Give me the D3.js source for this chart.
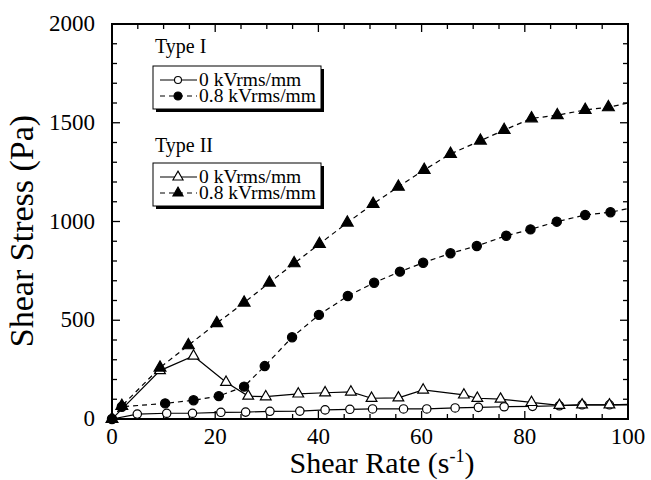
<!DOCTYPE html>
<html><head><meta charset="utf-8">
<script src="https://cdn.jsdelivr.net/npm/d3@7"></script>
</head><body style="margin:0">
<svg id="c" width="651" height="480"></svg>
<script>
// ---- data ----
const xTicks = [0, 20, 40, 60, 80, 100];
const yTicks = [0, 500, 1000, 1500, 2000];

const t1_0_x = [0, 4.9, 10.6, 15.6, 21.1, 25.9, 30.6, 36.4, 41.3, 46.1, 50.5, 56.5, 61.0, 66.5, 71.0, 76.0, 81.5, 86.7, 91.1, 96.4];
const t1_0_y = [0, 25, 29, 29, 34, 35, 39, 40, 46, 49, 51, 51, 51, 56, 59, 62, 64, 67, 72, 72];
const t1_0_end = 74;

const t1_8_x = [0, 1.9, 10.3, 15.8, 20.7, 25.6, 29.6, 34.9, 40.1, 45.7, 50.8, 55.8, 60.3, 65.6, 70.7, 76.4, 81.1, 86.2, 91.7, 96.6];
const t1_8_y = [0, 62, 79, 95, 116, 164, 268, 414, 527, 623, 690, 746, 791, 839, 876, 928, 960, 999, 1033, 1047];
const t1_8_end = 1065;

const t2_0_x = [0, 9.3, 15.8, 22.1, 26.4, 29.8, 36.1, 41.3, 46.3, 50.3, 55.5, 60.3, 68.2, 70.8, 75.3, 81.3, 86.7, 91.1, 96.4];
const t2_0_y = [0, 245, 319, 186, 116, 113, 127, 133, 137, 105, 107, 147, 122, 105, 101, 84, 69, 72, 72];
const t2_0_end = 72;

const t2_8_x = [0, 1.9, 9.3, 14.8, 20.3, 25.6, 30.5, 35.3, 40.2, 45.6, 50.6, 55.5, 60.5, 65.6, 71.4, 76.0, 81.3, 86.3, 91.7, 96.2];
const t2_8_y = [0, 66, 260, 373, 485, 589, 690, 788, 886, 994, 1089, 1176, 1261, 1342, 1409, 1463, 1522, 1538, 1565, 1578];
const t2_8_end = 1600;

const groupTitles = ["Type I", "Type II"];
const seriesLabels = ["0 kVrms/mm", "0.8 kVrms/mm"];

// ---- layout ----
const svg = d3.select("#c");
const FONT = '"Liberation Serif"';
const L = 112, R = 628, T = 24, B = 419;
const x = d3.scaleLinear().domain([0, 100]).range([L, R]);
const y = d3.scaleLinear().domain([0, 2000]).range([B, T]);

const series = [
  {xs: t1_0_x, ys: t1_0_y, end: t1_0_end, dash: null, shape: "circle", fill: false},
  {xs: t2_0_x, ys: t2_0_y, end: t2_0_end, dash: null, shape: "tri", fill: false},
  {xs: t1_8_x, ys: t1_8_y, end: t1_8_end, dash: "5,4", shape: "circle", fill: true},
  {xs: t2_8_x, ys: t2_8_y, end: t2_8_end, dash: "5,4", shape: "tri", fill: true},
];

// axes ticks inside
const minorX = d3.range(0, 101, 5), minorY = d3.range(0, 2001, 100);
const gT = svg.append("g");
minorX.forEach(v => {
  const len = v % 20 === 0 ? 8 : 5;
  gT.append("line").attr("x1", x(v)).attr("x2", x(v)).attr("y1", B).attr("y2", B - len).attr("stroke", "#000").attr("stroke-width", 1.3);
  gT.append("line").attr("x1", x(v)).attr("x2", x(v)).attr("y1", T).attr("y2", T + len).attr("stroke", "#000").attr("stroke-width", 1.3);
});
minorY.forEach(v => {
  const len = v % 500 === 0 ? 8 : 5;
  gT.append("line").attr("x1", L).attr("x2", L + len).attr("y1", y(v)).attr("y2", y(v)).attr("stroke", "#000").attr("stroke-width", 1.3);
  gT.append("line").attr("x1", R).attr("x2", R - len).attr("y1", y(v)).attr("y2", y(v)).attr("stroke", "#000").attr("stroke-width", 1.3);
});
svg.append("rect").attr("x", L).attr("y", T).attr("width", R - L).attr("height", B - T)
  .attr("fill", "none").attr("stroke", "#000").attr("stroke-width", 2);

// tick labels
svg.append("g").selectAll("text").data(xTicks).join("text")
  .style("font-family", FONT)
  .attr("x", d => x(d)).attr("y", 444).attr("text-anchor", "middle").attr("font-size", 23).text(d => d);
svg.append("g").selectAll("text").data(yTicks).join("text")
  .style("font-family", FONT)
  .attr("x", 95).attr("y", d => y(d) + 7).attr("text-anchor", "end").attr("font-size", 23).text(d => d);

// titles
const xt = svg.append("text").style("font-family", FONT)
  .attr("x", 382).attr("y", 473).attr("text-anchor", "middle").attr("font-size", 30);
xt.append("tspan").text("Shear Rate (s");
xt.append("tspan").attr("dy", -11).attr("font-size", 18).text("-1");
xt.append("tspan").attr("dy", 11).text(")");
svg.append("text").style("font-family", FONT)
  .attr("transform", "translate(33,231) rotate(-90)").attr("text-anchor", "middle")
  .attr("font-size", 34).text("Shear Stress (Pa)");

// lines & markers
const line = d3.line().x(d => x(d[0])).y(d => y(d[1]));
svg.append("clipPath").attr("id", "pc").append("rect").attr("x", L).attr("y", T).attr("width", R - L).attr("height", B - T);
function marker(g, shape, fill, cx, cy) {
  if (shape === "circle") {
    g.append("circle").attr("cx", cx).attr("cy", cy).attr("r", fill ? 4.6 : 4.2)
      .attr("fill", fill ? "#000" : "#fff").attr("stroke", "#000").attr("stroke-width", 1.2);
  } else {
    g.append("path").attr("d", d3.symbol(d3.symbolTriangle, fill ? 60 : 50)())
      .attr("transform", `translate(${cx},${cy})`)
      .attr("fill", fill ? "#000" : "#fff").attr("stroke", "#000").attr("stroke-width", 1.2);
  }
}
series.forEach(s => {
  const pts = s.xs.map((v, i) => [v, s.ys[i]]);
  pts.push([100, s.end]);
  svg.append("path").datum(pts).attr("d", line).attr("fill", "none").attr("stroke", "#000")
    .attr("stroke-width", 1.2).attr("stroke-dasharray", s.dash).attr("clip-path", "url(#pc)");
});
series.forEach(s => {
  const g = svg.append("g");
  s.xs.forEach((v, i) => marker(g, s.shape, s.fill, x(v), y(s.ys[i])));
});

// legends
const legendSpecs = [
  {title: groupTitles[0], ty: 53, by: 66, shape: "circle"},
  {title: groupTitles[1], ty: 152, by: 163, shape: "tri"},
];
legendSpecs.forEach(ls => {
  svg.append("text").style("font-family", FONT).attr("x", 155).attr("y", ls.ty).attr("font-size", 20).text(ls.title);
  svg.append("rect").attr("x", 156).attr("y", ls.by + 3).attr("width", 168).attr("height", 43).attr("fill", "#000");
  svg.append("rect").attr("x", 153).attr("y", ls.by).attr("width", 168).attr("height", 43)
    .attr("fill", "#fff").attr("stroke", "#000").attr("stroke-width", 1);
  [0, 1].forEach(k => {
    const cy = ls.by + 14 + k * 16;
    svg.append("line").attr("x1", 160).attr("x2", 197).attr("y1", cy).attr("y2", cy)
      .attr("stroke", "#000").attr("stroke-width", 1.2).attr("stroke-dasharray", k ? "5,4" : null);
    const g = svg.append("g");
    if (ls.shape === "circle") {
      g.append("circle").attr("cx", 178).attr("cy", cy).attr("r", k ? 4 : 3.5)
        .attr("fill", k ? "#000" : "#fff").attr("stroke", "#000").attr("stroke-width", 1.1);
    } else {
      g.append("path").attr("d", d3.symbol(d3.symbolTriangle, 45)())
        .attr("transform", `translate(178,${cy})`)
        .attr("fill", k ? "#000" : "#fff").attr("stroke", "#000").attr("stroke-width", 1.1);
    }
    svg.append("text").style("font-family", FONT).attr("x", 199).attr("y", cy + 6).attr("font-size", 19.5).text(seriesLabels[k]);
  });
});
</script>
</body></html>
